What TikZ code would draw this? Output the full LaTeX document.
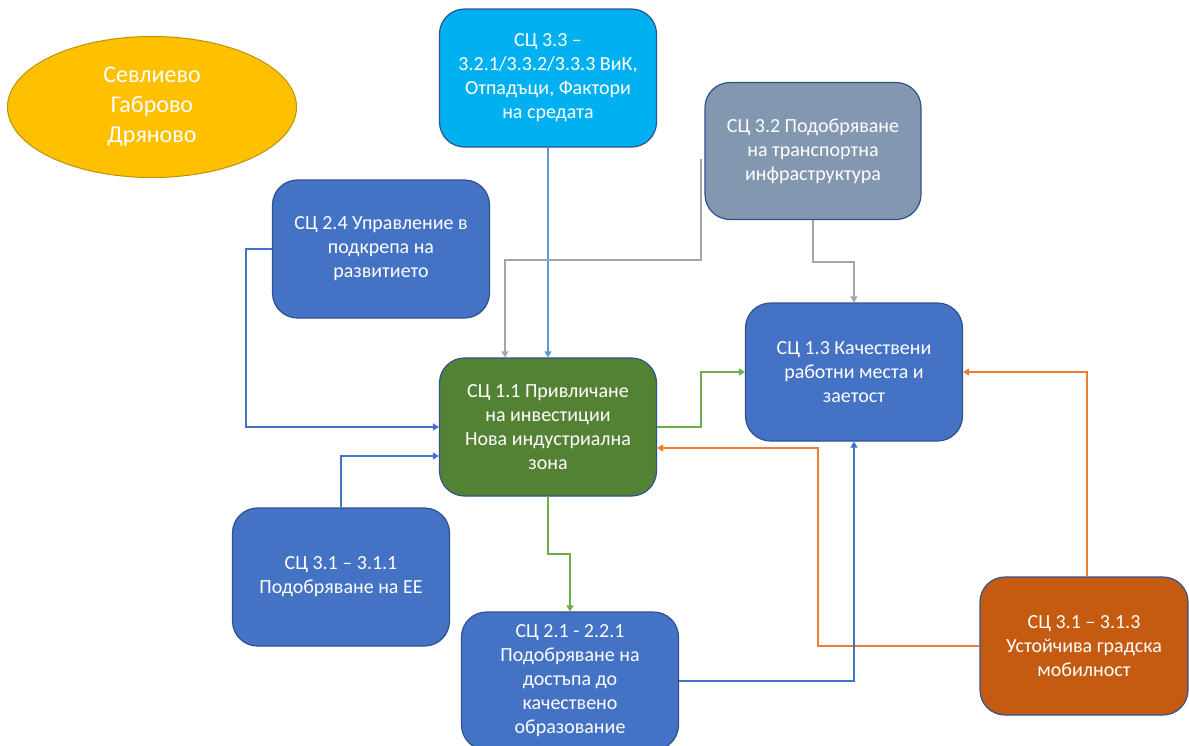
\documentclass[tikz,border=0pt]{standalone}
\usepackage{fontspec}
\setmainfont{Carlito}
\usetikzlibrary{arrows.meta,shapes.geometric}

\definecolor{boxblue}{HTML}{4472C4}
\definecolor{boxcyan}{HTML}{00B0F0}
\definecolor{boxgray}{HTML}{8497B0}
\definecolor{boxgreen}{HTML}{548235}
\definecolor{boxorange}{HTML}{C55A11}
\definecolor{boxedge}{HTML}{2F528F}
\definecolor{townfill}{HTML}{FFC000}
\definecolor{townedge}{HTML}{BF9000}
\definecolor{linkblue}{HTML}{4472C4}
\definecolor{linksky}{HTML}{5B9BD5}
\definecolor{linkgray}{HTML}{A5A5A5}
\definecolor{linkgreen}{HTML}{70AD47}
\definecolor{linkorange}{HTML}{ED7D31}

\begin{document}
\begin{tikzpicture}[x=1pt, y=-1pt,
    goal/.style={draw=boxedge, line width=1.2pt, rounded corners=25pt,
        minimum width=217pt, minimum height=138pt, inner sep=0pt,
        text=white, align=center, font=\fontsize{20}{24}\selectfont},
    link/.style={line width=2pt, -{Triangle[width=7pt,length=6pt]}}]
    \useasboundingbox (0,0) rectangle (1189,745);
    \node[ellipse, draw=townedge, fill=townfill, line width=1pt, minimum width=289pt,
        minimum height=141pt, inner sep=0pt, text=white, align=center,
        font=\fontsize{24}{30}\selectfont] (towns) at (152,107) {Севлиево\\Габрово\\Дряново};
    \node[goal, fill=boxcyan] (sc33) at (548,78) {СЦ 3.3 –\\3.2.1/3.3.2/3.3.3 ВиК,\\Отпадъци, Фактори\\на средата};
    \node[goal, fill=boxgray, minimum width=216pt, minimum height=137pt] (sc32) at (813,151) {СЦ 3.2 Подобряване\\на транспортна\\инфраструктура};
    \node[goal, fill=boxblue] (sc24) at (381,249) {СЦ 2.4 Управление в\\подкрепа  на\\развитието};
    \node[goal, fill=boxgreen] (sc11) at (548,427) {СЦ 1.1 Привличане\\на инвестиции\\Нова индустриална\\зона};
    \node[goal, fill=boxblue] (sc13) at (854,372) {СЦ 1.3 Качествени\\работни места и\\заетост};
    \node[goal, fill=boxblue] (sc311) at (341,577) {СЦ 3.1 – 3.1.1\\Подобряване на ЕЕ};
    \node[goal, fill=boxblue] (sc21) at (570,681) {СЦ 2.1  - 2.2.1\\Подобряване на\\достъпа до\\качествено\\образование};
    \node[goal, fill=boxorange, minimum width=208pt] (sc313) at (1084,646) {СЦ 3.1 – 3.1.3\\Устойчива градска\\мобилност};

    \draw[link, linksky] (sc33.south) -- (sc11.north);
    \draw[link, linkgray] ([xshift=-3pt,yshift=-8pt]sc32.west) -- ++(0,101) -| ([xshift=-43pt]sc11.north);
    \draw[link, linkgray] (sc32.south) -- ++(0,42) -| (sc13.north);
    \draw[link, linkblue] (sc24.west) -- ++(-26,0) |- (sc11.west);
    \draw[link, linkblue] (sc311.north) |- ([yshift=-29pt]sc11.west);
    \draw[link, linkgreen] (sc11.east) -- ++(44,0) |- (sc13.west);
    \draw[link, linkgreen] (sc11.south) -- ++(0,57) -| (sc21.north);
    \draw[link, linkorange] (sc313.west) -- ++(-161,0) |- ([yshift=-21pt]sc11.east);
    \draw[link, linkorange] ([xshift=3pt]sc313.north) |- (sc13.east);
    \draw[link, linkblue] (sc21.east) -| (sc13.south);
\end{tikzpicture}
\end{document}
